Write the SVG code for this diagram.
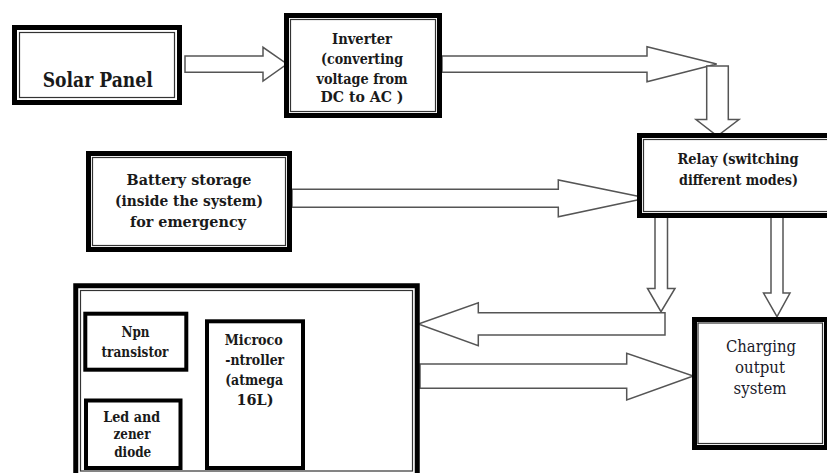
<svg xmlns="http://www.w3.org/2000/svg" width="827" height="473" viewBox="0 0 827 473">
<style>
.bg{fill:#ffffff}
.thick{fill:#ffffff;stroke:#000000;stroke-width:5}
.thin{fill:none;stroke:#333333;stroke-width:1.2}
.sub{fill:#ffffff;stroke:#000000;stroke-width:4}
.arrow{fill:#ffffff;stroke:#555555;stroke-width:1.5;stroke-linejoin:miter}
.b{font-family:'DejaVu Serif','Liberation Serif',serif;font-weight:bold;fill:#1a1a1a;text-anchor:middle}
.r{font-family:'DejaVu Serif','Liberation Serif',serif;font-weight:normal;fill:#1a1a2a;text-anchor:middle}
</style>
<rect class="bg" x="0" y="0" width="827" height="473"/>
<g id="connectors">
<polygon class="arrow" points="185,56 263,56 263,47.3 287,64 263,81 263,72.3 185,72.3"/>
<polygon class="arrow" points="442,56 647,56 647,46.7 716.7,64 647,81.7 647,72.3 442,72.3"/>
<polygon class="arrow" points="706.7,66 728.3,66 728.3,119.5 739,119.5 717.3,136 696,119.5 706.7,119.5"/>
<polygon class="arrow" points="292,189.3 558.3,189.3 558.3,180 646.7,198 558.3,216.7 558.3,207.3 292,207.3"/>
<polygon class="arrow" points="655,216 667.5,216 667.5,288.5 675,288.5 661,311.7 647.5,288.5 655,288.5"/>
<polygon class="arrow" points="771,216 783,216 783,293 790,293 777,316.7 763.5,293 771,293"/>
<polygon class="arrow" points="665,312.7 665,335 478.3,335 478.3,345.7 418.3,324 478.3,302.7 478.3,312.7"/>
<polygon class="arrow" points="420,364 626.7,364 626.7,353.3 693.3,376 626.7,400 626.7,388.3 420,388.3"/>
</g>
<g id="solar-panel">
<rect class="thick" x="14.5" y="27.5" width="165" height="75"/>
<rect class="thin" x="19.5" y="32.5" width="155" height="65"/>
<text class="b" x="97.7" y="87" font-size="20.5" textLength="110" lengthAdjust="spacingAndGlyphs">Solar Panel</text>
</g>
<g id="inverter">
<rect class="thick" x="286.5" y="15.5" width="153" height="100"/>
<rect class="thin" x="290.5" y="19.5" width="145" height="92"/>
<text class="b" x="362" y="44" font-size="15.5" textLength="60" lengthAdjust="spacingAndGlyphs">Inverter</text>
<text class="b" x="362" y="64" font-size="15.5" textLength="82" lengthAdjust="spacingAndGlyphs">(converting</text>
<text class="b" x="362" y="83.5" font-size="15.5" textLength="91" lengthAdjust="spacingAndGlyphs">voltage from</text>
<text class="b" x="362" y="102" font-size="15.5" textLength="83" lengthAdjust="spacingAndGlyphs">DC to AC )</text>
</g>
<g id="relay">
<rect class="thick" x="639.5" y="135.5" width="200" height="80"/>
<rect class="thin" x="643.5" y="139.5" width="200" height="72"/>
<text class="b" x="738" y="163.5" font-size="15" textLength="121" lengthAdjust="spacingAndGlyphs">Relay (switching</text>
<text class="b" x="738.5" y="184.5" font-size="15" textLength="119" lengthAdjust="spacingAndGlyphs">different modes)</text>
</g>
<g id="battery">
<rect class="thick" x="88.5" y="153.5" width="201" height="96"/>
<rect class="thin" x="92.5" y="157.5" width="193" height="88"/>
<text class="b" x="189" y="185" font-size="15.5" textLength="125" lengthAdjust="spacingAndGlyphs">Battery storage</text>
<text class="b" x="189" y="206" font-size="15.5" textLength="148" lengthAdjust="spacingAndGlyphs">(inside the system)</text>
<text class="b" x="188" y="227" font-size="15.5" textLength="116" lengthAdjust="spacingAndGlyphs">for emergency</text>
</g>
<g id="charging-output">
<rect class="thick" x="694.5" y="319.5" width="132" height="128"/>
<rect class="thin" x="698" y="323" width="124.5" height="120.5"/>
<text class="r" x="761" y="352" font-size="16.5" textLength="70" lengthAdjust="spacingAndGlyphs">Charging</text>
<text class="r" x="760" y="373" font-size="16.5" textLength="50" lengthAdjust="spacingAndGlyphs">output</text>
<text class="r" x="760" y="393.5" font-size="16.5" textLength="53" lengthAdjust="spacingAndGlyphs">system</text>
</g>
<g id="control-unit">
<rect class="thick" x="75.75" y="285.75" width="341.5" height="195" stroke-width="5.5"/>
<rect class="thin" x="80.5" y="290.5" width="332" height="180.5"/>
</g>
<g id="npn-transistor">
<rect class="sub" x="85.3" y="313.7" width="101" height="56"/>
<text class="b" x="135.5" y="337" font-size="14.5" textLength="28" lengthAdjust="spacingAndGlyphs">Npn</text>
<text class="b" x="135" y="356.5" font-size="14.5" textLength="67" lengthAdjust="spacingAndGlyphs">transistor</text>
</g>
<g id="led-zener">
<rect class="sub" x="86" y="400.5" width="94.5" height="67.5"/>
<text class="b" x="131.7" y="421.7" font-size="14.5" textLength="57" lengthAdjust="spacingAndGlyphs">Led and</text>
<text class="b" x="132" y="439" font-size="14.5" textLength="37" lengthAdjust="spacingAndGlyphs">zener</text>
<text class="b" x="132.7" y="456.7" font-size="14.5" textLength="37" lengthAdjust="spacingAndGlyphs">diode</text>
</g>
<g id="microcontroller">
<rect class="sub" x="207" y="321.3" width="96" height="146.7"/>
<text class="b" x="253.8" y="345" font-size="15" textLength="58" lengthAdjust="spacingAndGlyphs">Microco</text>
<text class="b" x="254.7" y="365" font-size="15" textLength="59" lengthAdjust="spacingAndGlyphs">-ntroller</text>
<text class="b" x="254.2" y="385" font-size="15" textLength="58" lengthAdjust="spacingAndGlyphs">(atmega</text>
<text class="b" x="255" y="405" font-size="15" textLength="37" lengthAdjust="spacingAndGlyphs">16L)</text>
</g>
</svg>
